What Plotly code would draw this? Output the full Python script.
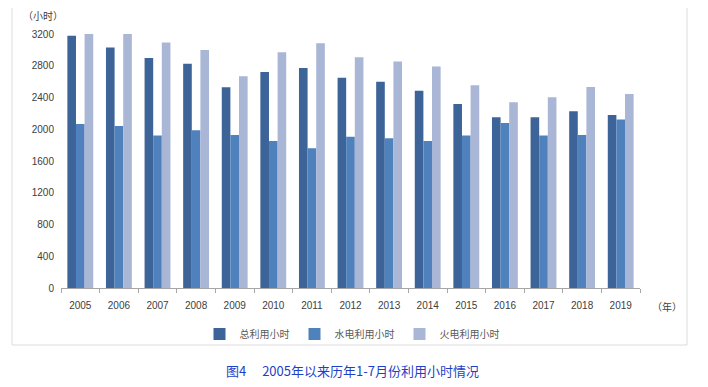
import plotly.graph_objects as go

years = ["2005", "2006", "2007", "2008", "2009", "2010", "2011", "2012",
         "2013", "2014", "2015", "2016", "2017", "2018", "2019"]
total_hours = [3178, 3031, 2897, 2826, 2528, 2721, 2771, 2650,
               2600, 2486, 2319, 2151, 2151, 2226, 2180]
hydro_hours = [2067, 2042, 1920, 1987, 1929, 1853, 1761, 1904,
               1887, 1853, 1920, 2080, 1920, 1929, 2122]
thermal_hours = [3203, 3203, 3094, 2998, 2667, 2969, 3082, 2906,
                 2855, 2792, 2553, 2340, 2403, 2532, 2444]
y_ticks = [0, 400, 800, 1200, 1600, 2000, 2400, 2800, 3200]
series_names = ["总利用小时", "水电利用小时", "火电利用小时"]
colors = ["#3d6499", "#4f81bd", "#a9b6d6"]

# page body has an 8px margin: figure is drawn at (8, 8)
OFF = 8
W, H = 708 - OFF, 387 - OFF


def px(x):
    return (x - OFF) / W


def py(y):
    return 1 - (y - OFF) / H


fig = go.Figure()
for name, vals, c in zip(series_names, [total_hours, hydro_hours, thermal_hours], colors):
    fig.add_trace(go.Bar(x=years, y=vals, name=name, marker=dict(color=c, line=dict(width=0))))

cjk = "Noto Sans CJK SC, Liberation Sans, sans-serif"
fig.update_layout(
    width=W, height=H,
    margin=dict(l=0, r=0, t=0, b=0, autoexpand=False),
    paper_bgcolor="white", plot_bgcolor="white",
    barmode="group", bargap=0.33, bargroupgap=0,
    font=dict(family=cjk, size=10, color="#404040"),
    showlegend=True,
    legend=dict(orientation="h", x=px(352), xanchor="center", y=py(334), yanchor="middle",
                font=dict(size=10, color="#595959", family=cjk),
                bgcolor="rgba(0,0,0,0)", itemwidth=30, tracegroupgap=0, traceorder="normal"),
    xaxis=dict(domain=[px(61), px(640)], showgrid=False, showline=True, automargin=False,
               linecolor="#a6a6a6", linewidth=1, ticks="outside", tickson="boundaries",
               ticklen=4, tickcolor="#a6a6a6", ticklabelstandoff=8,
               tickfont=dict(size=10, color="#404040", family="Liberation Sans, sans-serif"),
               fixedrange=True),
    yaxis=dict(domain=[py(288), py(34)], range=[0, 3200], tickvals=y_ticks,
               showgrid=False, showline=False, ticks="", zeroline=False, automargin=False,
               ticklabelstandoff=6,
               tickfont=dict(size=10, color="#404040", family="Liberation Sans, sans-serif"),
               fixedrange=True),
    shapes=[dict(type="rect", xref="paper", yref="paper",
                 x0=px(12), x1=px(687), y0=py(345), y1=py(6),
                 line=dict(color="#dcdcdc", width=1), fillcolor="rgba(0,0,0,0)", layer="below")],
    annotations=[
        dict(text="（小时）", xref="paper", yref="paper", x=px(21), y=py(15),
             xanchor="left", yanchor="middle", showarrow=False,
             font=dict(size=10, color="#404040", family=cjk)),
        dict(text="（年）", xref="paper", yref="paper", x=px(650), y=py(306),
             xanchor="left", yanchor="middle", showarrow=False,
             font=dict(size=10, color="#404040", family=cjk)),
        dict(text="图4　 2005年以来历年1-7月份利用小时情况", xref="paper", yref="paper",
             x=px(352), y=py(370), xanchor="center", yanchor="middle", showarrow=False,
             font=dict(size=13, color="#1f3fc8", family=cjk)),
    ],
)
fig.write_html("out.html")
